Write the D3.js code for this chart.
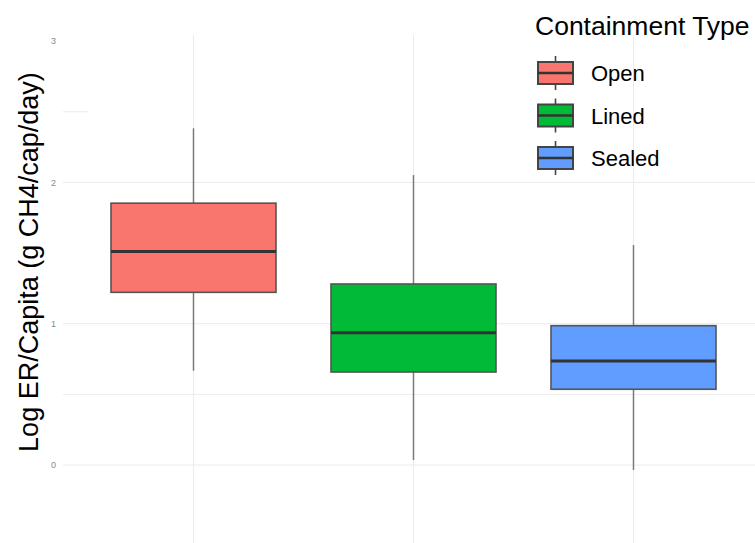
<!DOCTYPE html>
<html>
<head>
<meta charset="utf-8">
<script src="https://cdn.jsdelivr.net/npm/d3@7"></script>
<style>
  html, body { margin: 0; padding: 0; background: #fff; }
  svg { display: block; font-family: "Liberation Sans", Arial, Helvetica, sans-serif; }
</style>
</head>
<body>
<svg id="chart" width="755" height="543"></svg>
<script>
// Containment types and their box-plot summaries (log10 g CH4 / cap / day)
const categories = ["Open", "Lined", "Sealed"];
const whiskerLow  = [0.667, 0.035, -0.035];
const q1          = [1.222, 0.658, 0.536];
const median      = [1.511, 0.936, 0.736];
const q3          = [1.853, 1.281, 0.986];
const whiskerHigh = [2.383, 2.052, 1.557];
const fillColors  = ["#F8766D", "#00BA38", "#619CFF"];
const yTicks      = [0, 1, 2, 3];
const yGridLines  = [0, 0.5, 1, 2];

const svg = d3.select("#chart");

const x = d3.scaleBand().domain(categories).range([83.5, 743.5]);
const y = d3.scaleLinear().domain([0, 3]).range([465, 41.1]);
const color = d3.scaleOrdinal().domain(categories).range(fillColors);

const boxes = categories.map((c, i) => ({
  cat: c, lo: whiskerLow[i], q1: q1[i], med: median[i], q3: q3[i], hi: whiskerHigh[i]
}));

// Grid
const grid = svg.append("g");
grid.selectAll("line.h").data(yGridLines).join("line")
  .attr("x1", 63).attr("x2", 755)
  .attr("y1", d => y(d)).attr("y2", d => y(d))
  .attr("stroke", "#ebebeb").attr("stroke-width", 1);
grid.append("line")
  .attr("x1", 63).attr("x2", 88)
  .attr("y1", y(2.5)).attr("y2", y(2.5))
  .attr("stroke", "#ebebeb").attr("stroke-width", 1);
grid.selectAll("line.v").data(categories).join("line")
  .attr("x1", d => x(d) + x.bandwidth() / 2).attr("x2", d => x(d) + x.bandwidth() / 2)
  .attr("y1", 35).attr("y2", 543)
  .attr("stroke", "#ebebeb").attr("stroke-width", 1);

// Y axis (labels only)
const yAxis = svg.append("g")
  .attr("transform", "translate(56,0)")
  .call(d3.axisLeft(y).tickValues(yTicks).tickSize(0).tickPadding(0).tickFormat(d3.format("d")));
yAxis.select(".domain").remove();
yAxis.selectAll("text").attr("fill", "#8a8a8a").attr("font-size", 9)
  .attr("font-family", "Liberation Sans, Arial, sans-serif");

// Axis title
svg.append("text")
  .attr("transform", `translate(38,${(y(0) + y(3)) / 2 + 9}) rotate(-90)`)
  .attr("text-anchor", "middle")
  .attr("font-size", 27)
  .attr("fill", "#000")
  .text("Log ER/Capita (g CH4/cap/day)");

// Box plots
const bw = x.bandwidth() * 0.75;
const g = svg.append("g").selectAll("g").data(boxes).join("g")
  .attr("transform", d => `translate(${x(d.cat) + x.bandwidth() / 2},0)`);

g.append("line")
  .attr("x1", 0).attr("x2", 0)
  .attr("y1", d => y(d.hi)).attr("y2", d => y(d.q3))
  .attr("stroke", "#7a7a7a").attr("stroke-width", 1.5);
g.append("line")
  .attr("x1", 0).attr("x2", 0)
  .attr("y1", d => y(d.q1)).attr("y2", d => y(d.lo))
  .attr("stroke", "#7a7a7a").attr("stroke-width", 1.5);
g.append("rect")
  .attr("x", -bw / 2).attr("width", bw)
  .attr("y", d => y(d.q3)).attr("height", d => y(d.q1) - y(d.q3))
  .attr("fill", d => color(d.cat))
  .attr("stroke", "#555").attr("stroke-width", 1.6);
g.append("line")
  .attr("x1", -bw / 2).attr("x2", bw / 2)
  .attr("y1", d => y(d.med)).attr("y2", d => y(d.med))
  .attr("stroke", "#333").attr("stroke-width", 3);

// Legend
const legend = svg.append("g");
legend.append("text")
  .attr("x", 535).attr("y", 35)
  .attr("font-size", 26.5).attr("fill", "#000")
  .text("Containment Type");

const keyH = 22, keyW = 35, step = 42.5, top0 = 62;
const keys = legend.selectAll("g.key").data(categories).join("g")
  .attr("transform", (d, i) => `translate(538,${top0 + i * step})`);
keys.append("line")
  .attr("x1", keyW / 2).attr("x2", keyW / 2)
  .attr("y1", -6).attr("y2", keyH + 6)
  .attr("stroke", "#444").attr("stroke-width", 1.6);
keys.append("rect")
  .attr("width", keyW).attr("height", keyH)
  .attr("fill", d => color(d)).attr("stroke", "#444").attr("stroke-width", 2);
keys.append("line")
  .attr("x1", 0).attr("x2", keyW)
  .attr("y1", keyH / 2).attr("y2", keyH / 2)
  .attr("stroke", "#333").attr("stroke-width", 2.5);
keys.append("text")
  .attr("x", 53).attr("y", keyH / 2 + 8)
  .attr("font-size", 22).attr("fill", "#000")
  .text(d => d);
</script>
</body>
</html>
